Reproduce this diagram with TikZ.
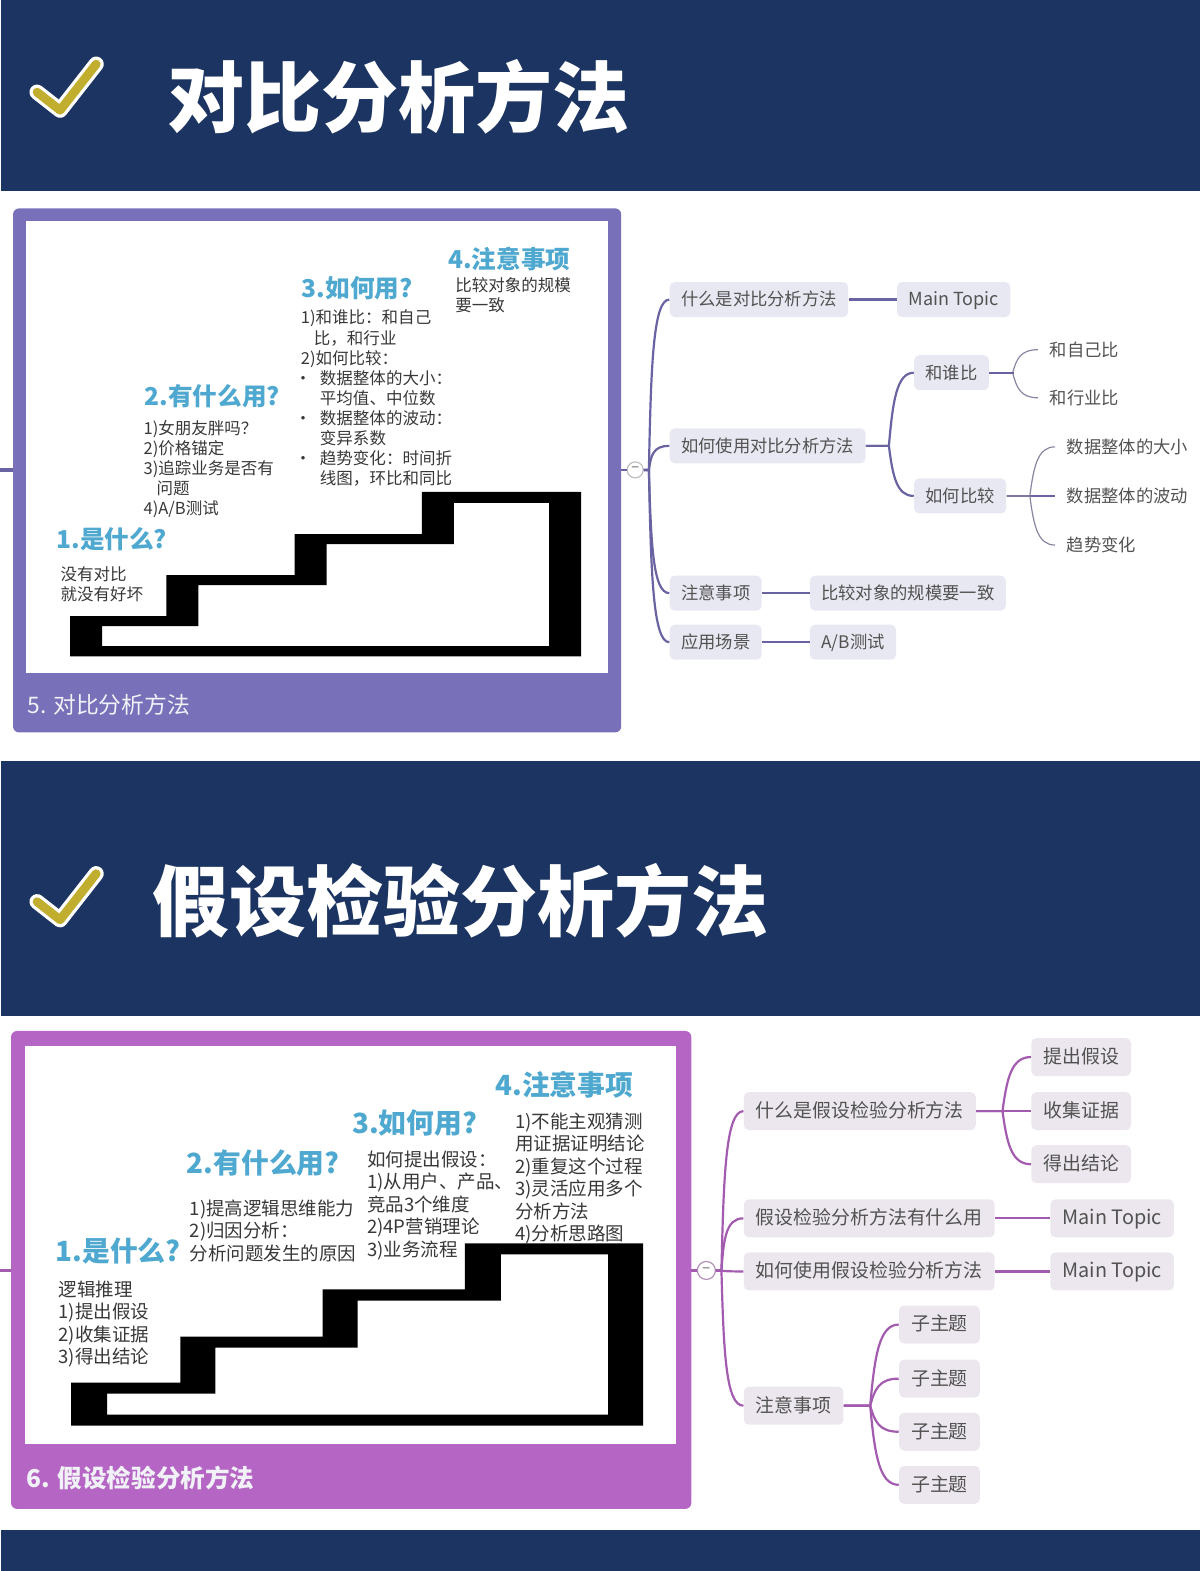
\documentclass[tikz,border=0pt]{standalone}
\usepackage{fontspec}
\setmainfont{Noto Sans CJK SC}
\usetikzlibrary{calc}
\definecolor{navy}{HTML}{1C3461}
\definecolor{gold}{HTML}{C2AE2E}
\definecolor{violetA}{HTML}{7870B8}
\definecolor{violetB}{HTML}{B565C3}
\definecolor{skyhead}{HTML}{4FA8CF}
\definecolor{topicA}{HTML}{E8E8F2}
\definecolor{topicB}{HTML}{ECE7EE}
\newcommand{\bulletline}[1]{\makebox[9.5pt][l]{\hspace{-3pt}•}#1}
\tikzstyle{band}=[fill=navy]
\tikzstyle{title}=[anchor=west,inner sep=0pt,text=white,font=\fontsize{38.5pt}{40pt}\bfseries\selectfont]
\tikzstyle{stairs}=[fill=black,even odd rule]
\tikzstyle{caption}=[anchor=west,inner sep=0pt,text=white!90!violetA]
\tikzstyle{head}=[anchor=west,inner sep=0pt,text=skyhead]
\tikzstyle{headA}=[head,font=\fontsize{12.3pt}{14pt}\bfseries\selectfont]
\tikzstyle{headB}=[head,font=\fontsize{13.9pt}{15pt}\bfseries\selectfont]
\tikzstyle{notesA}=[anchor=north west,inner sep=0pt,align=left,text=black!78,font=\fontsize{8.25pt}{10.05pt}\selectfont]
\tikzstyle{notesB}=[anchor=north west,inner sep=0pt,align=left,text=black!78,font=\fontsize{9.25pt}{11.25pt}\selectfont]
\tikzstyle{topic}=[anchor=west,rounded corners=2.5pt,text=black!68,text height=.82em,text depth=.18em]
\tikzstyle{subA}=[topic,fill=topicA,inner xsep=5.7pt,inner ysep=0pt,minimum height=17.5pt,font=\fontsize{8.65pt}{10pt}\selectfont]
\tikzstyle{subB}=[topic,fill=topicB,inner xsep=6pt,inner ysep=0pt,minimum height=19pt,font=\fontsize{9.45pt}{11pt}\selectfont]
\tikzstyle{leafA}=[subA,fill=none]
\tikzstyle{fold}=[circle,draw,line width=.6pt,fill=white,inner sep=0pt,text=black!60,font=\fontsize{7pt}{8pt}\selectfont]
\tikzstyle{linkA}=[draw=violetA!88!black,line width=1.1pt,line join=round]
\tikzstyle{linkB}=[draw=violetB!90!black,line width=1.1pt,line join=round]
\tikzstyle{thinA}=[draw=black!40!violetA!65,line width=.6pt,line join=round]
\tikzstyle{branch}[.48]=[to path={let \p1=(\tikztostart),\p2=(\tikztotarget) in
    -- ({\x1+#1*(\x2-\x1)},\y1)
    .. controls ({\x1+(#1+.08)*(\x2-\x1)},{\y1+.6*(\y2-\y1)}) and ({\x1+(#1+.16)*(\x2-\x1)},\y2) .. (\tikztotarget)}]

\begin{document}
\begin{tikzpicture}[x=.5008pt,y=-.5008pt]
    \useasboundingbox (0,0) rectangle (1198,1568);
    % bands
    \fill[band] (1,0) rectangle (1198,191);
    \fill[band] (1,760) rectangle (1198,1014);
    \fill[band] (1,1527) rectangle (1198,1568);
    \foreach \dy in {0,808} {
        \draw[white,line width=7.6pt,line cap=round,line join=round] (37,92+\dy) -- (60,110+\dy) -- (96,64+\dy);
        \draw[gold,line width=4.4pt,line cap=round,line join=round] (37,92+\dy) -- (60,110+\dy) -- (96,64+\dy);
    }
    \node[title] (titleA) at (167,97) {对比分析方法};
    \node[title] (titleB) at (152,899) {假设检验分析方法};

    % first card
    \fill[violetA,rounded corners=3pt] (13,208) rectangle (620,731);
    \fill[white] (26,221) rectangle (607,672);
    \fill[stairs] (70,655) -- (70,615) -- (166,615) -- (166,574) -- (294,574) -- (294,533) -- (421,533)
        -- (421,491) -- (580,491) -- (580,655) -- cycle
        (102,645) -- (102,625) -- (198,625) -- (198,584) -- (326,584) -- (326,543) -- (453,543)
        -- (453,502) -- (548,502) -- (548,645) -- cycle;
    \node[headA] (whatA) at (56,538) {1.是什么?};
    \node[notesA] (whatAtext) at (60,565) {没有对比\\就没有好坏};
    \node[headA] (useA) at (144,395) {2.有什么用?};
    \node[notesA] (useAtext) at (143,419) {1)女朋友胖吗？\\2)价格锚定\\3)追踪业务是否有\\\hspace*{6.5pt}问题\\4)A/B测试};
    \node[headA] (howA) at (301,288) {3.如何用?};
    \node[notesA] (howAtext) at (300,309) {1)和谁比：和自己\\\hspace*{6.5pt}比，和行业\\2)如何比较：\\
        \bulletline{数据整体的大小：}\\\hspace*{9.5pt}平均值、中位数\\
        \bulletline{数据整体的波动：}\\\hspace*{9.5pt}变异系数\\
        \bulletline{趋势变化：时间折}\\\hspace*{9.5pt}线图，环比和同比};
    \node[headA] (noteA) at (447,259) {4.注意事项};
    \node[notesA] (noteAtext) at (454,277) {比较对象的规模\\要一致};
    \node[caption,font=\fontsize{11.4pt}{13pt}\selectfont] (capA) at (27,703) {5. 对比分析方法};

    % first map
    \coordinate (edgeA) at (620,469);
    \coordinate (stubA) at (13,469);
    \coordinate (startA) at (0,469);
    \node[fold,draw=black!25,minimum size=8pt] (foldA) at (634,469) {−};
    \node[subA] (a1) at (668,299) {什么是对比分析方法};
    \node[subA,font=\fontsize{9pt}{10pt}\selectfont] (a1x) at (895,299) {Main Topic};
    \node[subA] (a2) at (668,445) {如何使用对比分析方法};
    \node[subA] (a2x) at (912,372) {和谁比};
    \node[subA] (a2y) at (912,495) {如何比较};
    \node[leafA] (a2x1) at (1036,349) {和自己比};
    \node[leafA] (a2x2) at (1036,397) {和行业比};
    \node[leafA] (a2y1) at (1053,446) {数据整体的大小};
    \node[leafA] (a2y2) at (1053,495) {数据整体的波动};
    \node[leafA] (a2y3) at (1053,544) {趋势变化};
    \node[subA] (a3) at (668,592) {注意事项};
    \node[subA] (a3x) at (808,592) {比较对象的规模要一致};
    \node[subA] (a4) at (668,641) {应用场景};
    \node[subA] (a4x) at (808,641) {A/B测试};
    \coordinate (a2xfork) at ($(a2x.east)+(25,0)$);
    \draw[linkA,line width=1.6pt] (startA) -- (stubA);
    \draw[linkA] (edgeA) -- (foldA);
    \foreach \to in {a1,a2,a3,a4} \draw[linkA] (foldA.east) to[branch=.2] (\to.west);
    \draw[linkA] (a1) -- (a1x);
    \draw[linkA] (a3) -- (a3x);
    \draw[linkA] (a4) -- (a4x);
    \foreach \to in {a2x,a2y} \draw[linkA] (a2.east) to[branch] (\to.west);
    \foreach \to in {a2x1,a2x2} \draw[thinA] (a2x.east) to[branch] (\to.west);
    \draw[linkA] (a2x.east) -- (a2xfork);
    \draw[thinA] (a2y.east) to[branch] (a2y1.west);
    \draw[linkA] (a2y.east) -- (a2y2.west);
    \draw[thinA] (a2y.east) to[branch] (a2y3.west);

    % second card
    \fill[violetB,rounded corners=3pt] (11,1029) rectangle (690,1506);
    \fill[white] (25,1044) rectangle (675,1441);
    \fill[stairs] (71,1423) -- (71,1380) -- (180,1380) -- (180,1334) -- (322,1334) -- (322,1287) -- (464,1287)
        -- (464,1241) -- (642,1241) -- (642,1423) -- cycle
        (107,1412) -- (107,1391) -- (215,1391) -- (215,1345) -- (357,1345) -- (357,1298) -- (500,1298)
        -- (500,1252) -- (607,1252) -- (607,1412) -- cycle;
    \node[headB] (whatB) at (55,1249) {1.是什么?};
    \node[notesB] (whatBtext) at (58,1278) {逻辑推理\\1)提出假设\\2)收集证据\\3)得出结论};
    \node[headB] (useB) at (186,1161) {2.有什么用?};
    \node[notesB] (useBtext) at (189,1197) {1)提高逻辑思维能力\\2)归因分析：\\分析问题发生的原因};
    \node[headB] (howB) at (351,1121) {3.如何用?};
    \node[notesB] (howBtext) at (366,1148) {如何提出假设：\\1)从用户、产品、\\竞品3个维度\\2)4P营销理论\\3)业务流程};
    \node[headB] (noteB) at (494,1083) {4.注意事项};
    \node[notesB] (noteBtext) at (514,1110) {1)不能主观猜测\\用证据证明结论\\2)重复这个过程\\3)灵活应用多个\\分析方法\\4)分析思路图};
    \node[caption,font=\fontsize{12.3pt}{14pt}\bfseries\selectfont] (capB) at (26,1475) {6. 假设检验分析方法};

    % second map
    \coordinate (edgeB) at (690,1268);
    \coordinate (stubB) at (11,1268);
    \coordinate (startB) at (0,1268);
    \node[fold,draw=violetB!70!black!60,minimum size=9pt] (foldB) at (705,1268) {−};
    \node[subB] (b1) at (742,1109) {什么是假设检验分析方法};
    \node[subB] (b1x) at (1029,1055) {提出假设};
    \node[subB] (b1y) at (1029,1109) {收集证据};
    \node[subB] (b1z) at (1029,1162) {得出结论};
    \node[subB] (b2) at (742,1216) {假设检验分析方法有什么用};
    \node[subB,font=\fontsize{9.9pt}{11pt}\selectfont] (b2x) at (1048,1216) {Main Topic};
    \node[subB] (b3) at (742,1269) {如何使用假设检验分析方法};
    \node[subB,font=\fontsize{9.9pt}{11pt}\selectfont] (b3x) at (1048,1269) {Main Topic};
    \node[subB] (b4) at (742,1403) {注意事项};
    \node[subB] (b4w) at (897,1322) {子主题};
    \node[subB] (b4x) at (897,1376) {子主题};
    \node[subB] (b4y) at (897,1429) {子主题};
    \node[subB] (b4z) at (897,1482) {子主题};
    \draw[linkB,line width=1.6pt] (startB) -- (stubB);
    \draw[linkB] (edgeB) -- (foldB);
    \foreach \to in {b1,b2,b3,b4} \draw[linkB] (foldB.east) to[branch=.2] (\to.west);
    \foreach \to in {b1x,b1y,b1z} \draw[linkB] (b1.east) to[branch] (\to.west);
    \draw[linkB] (b2) -- (b2x);
    \draw[linkB] (b3) -- (b3x);
    \foreach \to in {b4w,b4x,b4y,b4z} \draw[linkB] (b4.east) to[branch] (\to.west);
\end{tikzpicture}
\end{document}
